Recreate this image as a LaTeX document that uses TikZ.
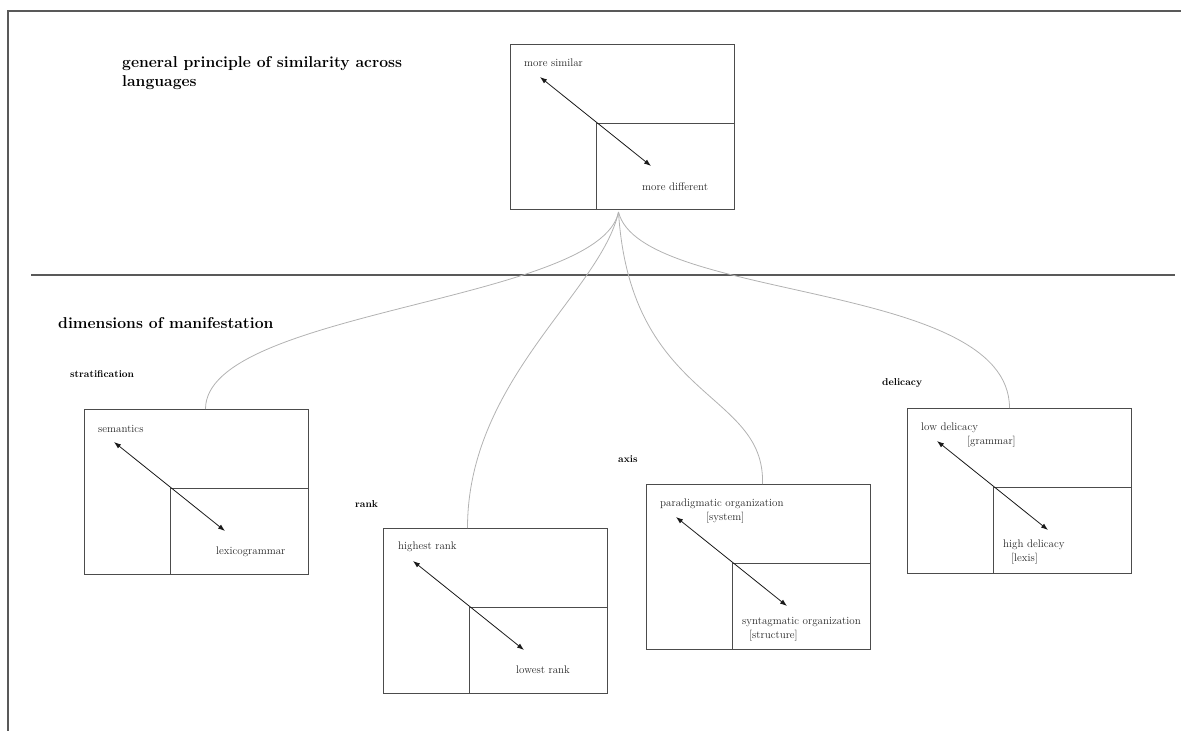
\documentclass[tikz,border=0pt]{standalone}
\usetikzlibrary{arrows.meta}
\tikzset{
  dimbox/.style={draw=black!70, line width=1pt, anchor=north west, minimum width=224pt, minimum height=165pt, inner sep=0pt},
  thread/.style={draw=black!30, line width=0.8pt},
  pull/.style={{Latex[length=7pt,width=5pt]}-{Latex[length=7pt,width=5pt]}, black!90, line width=0.8pt},
  lbl/.style={anchor=west, inner sep=0pt, text=black!85, font=\fontsize{11}{14}\selectfont, align=left},
  head/.style={anchor=west, inner sep=0pt, font=\bfseries\fontsize{10}{12}\selectfont},
}
\begin{document}
\begin{tikzpicture}[x=1pt,y=-1pt]
    \useasboundingbox (0,0) rectangle (1181,731);
    % page edges and separator
    \draw[black!65, line width=1.2pt] (1181,11) -- (8,11) -- (8,731);
    \draw[black!65, line width=1.2pt] (31,275) -- (1175,275);

    \node[anchor=north west, inner sep=0pt, align=left, font=\bfseries\fontsize{15.7}{19.5}\selectfont] (title) at (122,56) {general principle of similarity across\\languages};
    \node[anchor=west, inner sep=0pt, font=\bfseries\fontsize{15.7}{19}\selectfont] (dims) at (58,323) {dimensions of manifestation};

    \node[head] (h-strat) at (70,374) {stratification};
    \node[head] (h-rank) at (355,504) {rank};
    \node[head] (h-axis) at (618,459) {axis};
    \node[head] (h-deli) at (882,383) {delicacy};

    % the five boxes, each with its corner and arrow
    \foreach \n/\px/\py in {top/510/44, strat/84/409, rank/383/528, axis/646/484, deli/907/408} {
      \node[dimbox] (\n) at (\px,\py) {};
      \coordinate (\n-c) at ([shift={(86,79)}]\n.north west);
      \draw[black!70, line width=1pt] (\n.east |- \n-c) -- (\n-c) -- (\n.south -| \n-c);
      \draw[pull] ([shift={(30,33)}]\n.north west) -- ([shift={(141,122)}]\n.north west);
    }

    \node[lbl] (top-a) at ([shift={(14,19)}]top.north west) {more similar};
    \node[lbl] (top-b) at ([shift={(132,143)}]top.north west) {more different};
    \node[lbl] (strat-a) at ([shift={(14,20)}]strat.north west) {semantics};
    \node[lbl] (strat-b) at ([shift={(132,143)}]strat.north west) {lexicogrammar};
    \node[lbl] (rank-a) at ([shift={(15,19)}]rank.north west) {highest rank};
    \node[lbl] (rank-b) at ([shift={(133,142)}]rank.north west) {lowest rank};
    \node[lbl, anchor=north west] (axis-a) at ([shift={(14,15)}]axis.north west) {paradigmatic organization\\\hspace*{46pt}[system]};
    \node[lbl, anchor=north west] (axis-b) at ([shift={(96,133)}]axis.north west) {syntagmatic organization\\\hspace*{7pt}[structure]};
    \node[lbl, anchor=north west] (deli-a) at ([shift={(14,15)}]deli.north west) {low delicacy\\\hspace*{46pt}[grammar]};
    \node[lbl, anchor=north west] (deli-b) at ([shift={(96,132)}]deli.north west) {high delicacy\\\hspace*{8pt}[lexis]};

    % threads from the general box down to each dimension
    \coordinate (root) at ([shift={(-4,2)}]top.south);
    \draw[thread] (root) .. controls +(-18,90) and +(0,-99) .. ([xshift=9pt]strat.north);
    \draw[thread] (root) .. controls +(-18,80) and +(0,-148) .. ([xshift=-28pt]rank.north);
    \draw[thread] (root) .. controls +(12,190) and +(3,-94) .. ([xshift=4pt]axis.north);
    \draw[thread] (root) .. controls +(22,90) and +(0,-128) .. ([xshift=-10pt]deli.north);
\end{tikzpicture}
\end{document}
